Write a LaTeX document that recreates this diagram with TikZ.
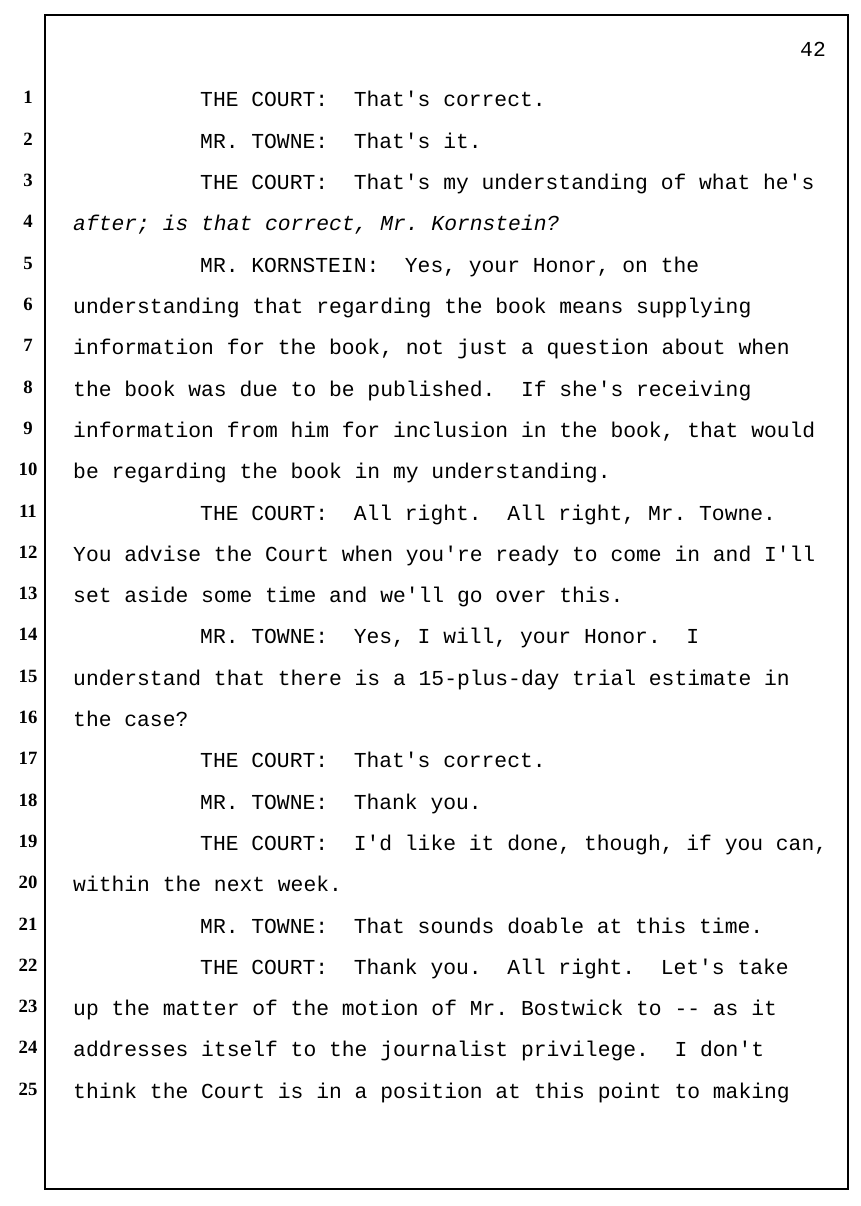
\documentclass[tikz,border=0pt]{standalone}
\usepackage{fontspec}
\setmonofont{Liberation Mono}
\newfontfamily\numfont{Liberation Serif}
\usetikzlibrary{positioning}
\tikzset{txt/.style={anchor=base west,inner sep=0pt,font=\ttfamily\fontsize{18.2}{20}\selectfont},
  lnum/.style={anchor=base,inner sep=0pt,font=\numfont\bfseries\fontsize{16}{18}\selectfont},
  frame/.style={line width=1.2pt,black}}
\begin{document}
\begin{tikzpicture}[x=0.03cm,y=-0.03cm]
  \useasboundingbox (0,0) rectangle (860,1206);
  % page frame
  \draw[frame] (45,15) -- (848,15) -- (848,1189) -- (45,1189) -- cycle;
  \node[txt] (page) at (800,56) {42};
  % line numbers
  \foreach \n in {1,...,25}
    \node[lnum] (n\n) at (28,{104+41.3*(\n-1)}) {\n};
  % transcript lines
  \def\ln#1#2#3{\node[txt] (l#1) at (#2,{107+41.3*(#1-1)}) {#3};}
  \ln{1}{200}{THE COURT:~~That's correct.}
  \ln{2}{200}{MR. TOWNE:~~That's it.}
  \ln{3}{200}{THE COURT:~~That's my understanding of what he's}
  \ln{4}{73}{\itshape after; is that correct, Mr. Kornstein?}
  \ln{5}{200}{MR. KORNSTEIN:~~Yes, your Honor, on the}
  \ln{6}{73}{understanding that regarding the book means supplying}
  \ln{7}{73}{information for the book, not just a question about when}
  \ln{8}{73}{the book was due to be published.~~If she's receiving}
  \ln{9}{73}{information from him for inclusion in the book, that would}
  \ln{10}{73}{be regarding the book in my understanding.}
  \ln{11}{200}{THE COURT:~~All right.~~All right, Mr. Towne.}
  \ln{12}{73}{You advise the Court when you're ready to come in and I'll}
  \ln{13}{73}{set aside some time and we'll go over this.}
  \ln{14}{200}{MR. TOWNE:~~Yes, I will, your Honor.~~I}
  \ln{15}{73}{understand that there is a 15-plus-day trial estimate in}
  \ln{16}{73}{the case?}
  \ln{17}{200}{THE COURT:~~That's correct.}
  \ln{18}{200}{MR. TOWNE:~~Thank you.}
  \ln{19}{200}{THE COURT:~~I'd like it done, though, if you can,}
  \ln{20}{73}{within the next week.}
  \ln{21}{200}{MR. TOWNE:~~That sounds doable at this time.}
  \ln{22}{200}{THE COURT:~~Thank you.~~All right.~~Let's take}
  \ln{23}{73}{up the matter of the motion of Mr. Bostwick to -- as it}
  \ln{24}{73}{addresses itself to the journalist privilege.~~I don't}
  \ln{25}{73}{think the Court is in a position at this point to making}
\end{tikzpicture}
\end{document}
